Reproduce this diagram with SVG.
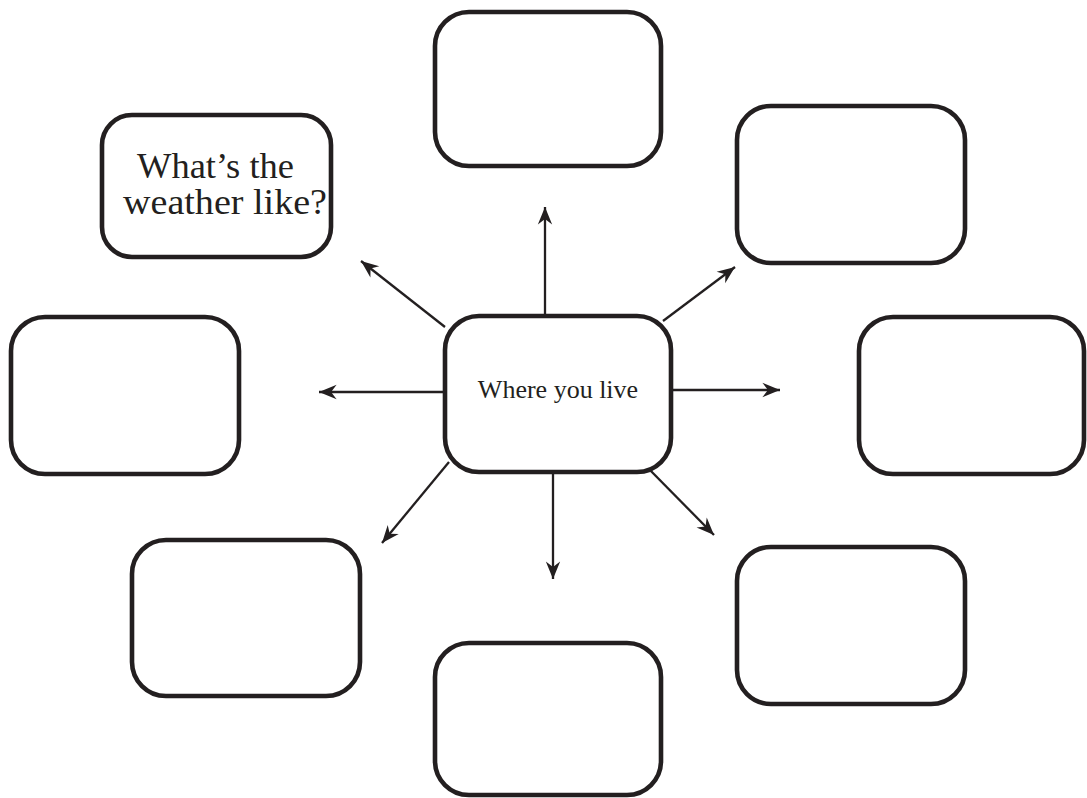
<svg xmlns="http://www.w3.org/2000/svg" width="1087" height="798" viewBox="0 0 1087 798">
<style>
.box{fill:#fff;stroke:#231f20;stroke-width:4.6}
.con{stroke:#231f20;stroke-width:2.3;fill:none;marker-end:url(#ah)}
.t1{font-family:"Liberation Serif",serif;font-size:26px;fill:#231f20;text-anchor:middle}
.t2{font-family:"Liberation Serif",serif;font-size:35px;fill:#231f20;text-anchor:middle}
</style>
<defs>
<marker id="ah" markerUnits="userSpaceOnUse" markerWidth="22" markerHeight="22" viewBox="-18 -9 20 18" refX="0" refY="0" orient="auto">
<path d="M0,0 L-16,-6.5 L-11,0 L-16,6.5 Z" fill="#231f20"/>
</marker>
</defs>
<rect width="1087" height="798" fill="#fff"/>
<g id="connectors">
<line class="con" x1="545" y1="314" x2="545" y2="207"/>
<line class="con" x1="445" y1="327" x2="361" y2="261"/>
<line class="con" x1="663" y1="321" x2="735" y2="267"/>
<line class="con" x1="443" y1="392" x2="319" y2="392"/>
<line class="con" x1="673" y1="390" x2="780" y2="390"/>
<line class="con" x1="449" y1="462" x2="382" y2="543"/>
<line class="con" x1="553" y1="474" x2="553" y2="579"/>
<line class="con" x1="645" y1="465" x2="714" y2="535"/>
</g>
<g id="node-top"><rect class="box" x="435" y="12" width="226" height="154" rx="34"/></g>
<g id="node-weather"><rect class="box" x="102" y="115" width="229" height="142" rx="30"/>
<text class="t2" x="215.5" y="178" textLength="157" lengthAdjust="spacingAndGlyphs">What’s the</text>
<text class="t2" x="225" y="214" textLength="204" lengthAdjust="spacingAndGlyphs">weather like?</text></g>
<g id="node-topright"><rect class="box" x="737" y="106" width="228" height="157" rx="34"/></g>
<g id="node-left"><rect class="box" x="11" y="317" width="228" height="157" rx="34"/></g>
<g id="node-center"><rect class="box" x="445" y="316" width="226" height="156" rx="34"/>
<text class="t1" x="558" y="398">Where you live</text></g>
<g id="node-right"><rect class="box" x="859" y="317" width="225" height="157" rx="34"/></g>
<g id="node-bottomleft"><rect class="box" x="132" y="540" width="228" height="156" rx="34"/></g>
<g id="node-bottomright"><rect class="box" x="737" y="547" width="228" height="157" rx="34"/></g>
<g id="node-bottom"><rect class="box" x="435" y="643" width="226" height="152" rx="34"/></g>
</svg>
